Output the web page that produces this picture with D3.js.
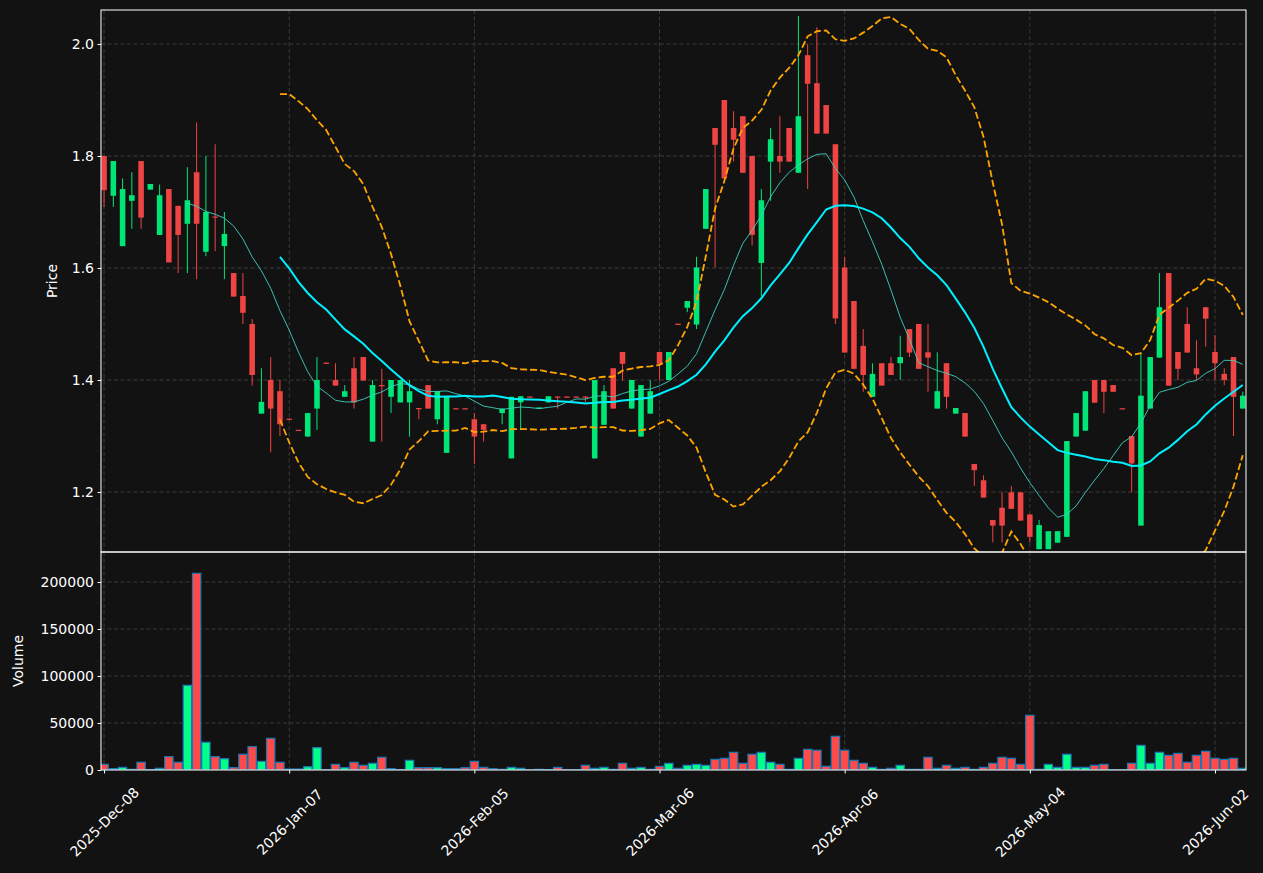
<!DOCTYPE html>
<html><head><meta charset="utf-8">
<script src="https://cdn.jsdelivr.net/npm/d3@7"></script>
<style>
body{margin:0;background:#121212;}
svg{display:block;}
text{font-family:"DejaVu Sans",sans-serif;}
</style>
</head><body>
<svg id="chart" width="1263" height="873"></svg>
<script>
// ---------------- DATA ----------------
const dates = [
"2025-12-08","2025-12-09","2025-12-10","2025-12-11","2025-12-12",
"2025-12-15","2025-12-16","2025-12-17","2025-12-18","2025-12-19",
"2025-12-22","2025-12-23","2025-12-24","2025-12-26",
"2025-12-29","2025-12-30","2025-12-31","2026-01-02","2026-01-05","2026-01-06",
"2026-01-07","2026-01-08","2026-01-09",
"2026-01-12","2026-01-13","2026-01-14","2026-01-15","2026-01-16",
"2026-01-20","2026-01-21","2026-01-22","2026-01-23",
"2026-01-26","2026-01-27","2026-01-28","2026-01-29","2026-01-30",
"2026-02-02","2026-02-03","2026-02-04",
"2026-02-05","2026-02-06",
"2026-02-09","2026-02-10","2026-02-11","2026-02-12","2026-02-13",
"2026-02-17","2026-02-18","2026-02-19","2026-02-20",
"2026-02-23","2026-02-24","2026-02-25","2026-02-26","2026-02-27",
"2026-03-02","2026-03-03","2026-03-04","2026-03-05",
"2026-03-06",
"2026-03-09","2026-03-10","2026-03-11","2026-03-12","2026-03-13",
"2026-03-16","2026-03-17","2026-03-18","2026-03-19","2026-03-20",
"2026-03-23","2026-03-24","2026-03-25","2026-03-26","2026-03-27",
"2026-03-30","2026-03-31","2026-04-01","2026-04-02",
"2026-04-06","2026-04-07","2026-04-08","2026-04-09","2026-04-10",
"2026-04-13","2026-04-14","2026-04-15","2026-04-16","2026-04-17",
"2026-04-20","2026-04-21","2026-04-22","2026-04-23","2026-04-24",
"2026-04-27","2026-04-28","2026-04-29","2026-04-30","2026-05-01",
"2026-05-04","2026-05-05","2026-05-06","2026-05-07","2026-05-08",
"2026-05-11","2026-05-12","2026-05-13","2026-05-14","2026-05-15",
"2026-05-18","2026-05-19","2026-05-20","2026-05-21","2026-05-22",
"2026-05-26","2026-05-27","2026-05-28","2026-05-29",
"2026-06-01","2026-06-02","2026-06-03","2026-06-04","2026-06-05"
];

const openP = [
1.800,1.729,1.639,1.720,1.791,1.740,1.659,1.741,1.711,1.679,
1.771,1.629,1.692,1.639,1.591,1.550,1.500,1.340,1.400,1.380,
1.331,1.311,1.299,1.349,1.431,1.400,1.370,1.421,1.441,1.290,
1.391,1.370,1.360,1.360,1.350,1.391,1.330,1.270,1.3495,1.3495,
1.330,1.321,1.3725,1.341,1.260,1.360,1.3705,1.349,1.360,1.3705,
1.3705,1.3705,1.3705,1.260,1.320,1.421,1.450,1.349,1.299,1.340,
1.450,1.400,1.5005,1.529,1.499,1.670,1.850,1.900,1.850,1.871,
1.800,1.609,1.790,1.800,1.850,1.770,1.980,1.930,1.891,1.821,
1.601,1.541,1.461,1.370,1.430,1.430,1.430,1.491,1.500,1.4495,
1.349,1.430,1.340,1.341,1.250,1.221,1.150,1.172,1.1995,1.1995,
1.160,1.098,1.098,1.1095,1.120,1.299,1.3095,1.400,1.400,1.391,
1.3495,1.300,1.140,1.349,1.440,1.591,1.450,1.500,1.421,1.530,
1.450,1.411,1.441,1.349
];
const highP = [
1.800,1.791,1.760,1.771,1.791,1.750,1.749,1.741,1.711,1.780,
1.860,1.800,1.821,1.700,1.591,1.591,1.509,1.421,1.441,1.400,
1.331,1.311,1.341,1.441,1.431,1.430,1.391,1.441,1.441,1.400,
1.420,1.400,1.400,1.400,1.350,1.391,1.380,1.370,1.3495,1.3495,
1.341,1.321,1.3725,1.349,1.370,1.371,1.3705,1.351,1.371,1.3705,
1.3705,1.3705,1.3705,1.400,1.391,1.421,1.450,1.400,1.391,1.400,
1.450,1.450,1.5005,1.541,1.620,1.741,1.850,1.900,1.880,1.871,
1.800,1.741,1.850,1.871,1.850,2.050,2.000,2.030,1.891,1.821,
1.620,1.541,1.491,1.430,1.430,1.441,1.479,1.491,1.500,1.500,
1.4495,1.430,1.350,1.341,1.250,1.230,1.150,1.1995,1.211,1.1995,
1.160,1.150,1.130,1.130,1.291,1.341,1.380,1.400,1.400,1.391,
1.3495,1.300,1.448,1.441,1.591,1.591,1.450,1.530,1.471,1.530,
1.480,1.421,1.441,1.379
];
const lowP = [
1.709,1.709,1.639,1.670,1.670,1.740,1.659,1.610,1.591,1.591,
1.580,1.621,1.630,1.580,1.549,1.500,1.390,1.340,1.271,1.300,
1.329,1.309,1.299,1.311,1.429,1.390,1.370,1.349,1.399,1.290,
1.290,1.341,1.360,1.299,1.330,1.349,1.321,1.270,1.3485,1.3485,
1.250,1.290,1.3715,1.321,1.260,1.311,1.3695,1.349,1.360,1.349,
1.3695,1.3695,1.361,1.260,1.320,1.349,1.399,1.349,1.299,1.340,
1.399,1.400,1.4995,1.521,1.491,1.670,1.601,1.760,1.790,1.770,
1.640,1.549,1.720,1.770,1.790,1.770,1.741,1.840,1.840,1.500,
1.449,1.420,1.379,1.370,1.390,1.409,1.400,1.441,1.420,1.379,
1.349,1.349,1.340,1.299,1.211,1.190,1.110,1.110,1.170,1.149,
1.110,1.098,1.098,1.1095,1.120,1.299,1.3095,1.3595,1.341,1.379,
1.3485,1.1995,1.140,1.349,1.440,1.390,1.400,1.449,1.400,1.4595,
1.400,1.391,1.300,1.349
];
const closeP = [
1.739,1.791,1.741,1.730,1.690,1.750,1.730,1.610,1.659,1.721,
1.679,1.700,1.690,1.661,1.549,1.520,1.409,1.361,1.349,1.321,
1.329,1.309,1.341,1.400,1.429,1.390,1.380,1.360,1.399,1.391,
1.389,1.400,1.400,1.380,1.348,1.349,1.380,1.370,1.3485,1.3485,
1.299,1.311,1.3715,1.349,1.370,1.371,1.3695,1.351,1.371,1.369,
1.3695,1.3695,1.3695,1.400,1.380,1.349,1.429,1.400,1.391,1.380,
1.429,1.450,1.4995,1.541,1.601,1.741,1.820,1.760,1.829,1.770,
1.659,1.721,1.830,1.790,1.790,1.871,1.929,1.840,1.840,1.510,
1.449,1.420,1.409,1.411,1.390,1.409,1.441,1.449,1.420,1.440,
1.380,1.370,1.350,1.299,1.239,1.190,1.140,1.140,1.170,1.149,
1.120,1.141,1.130,1.130,1.291,1.341,1.380,1.3595,1.379,1.379,
1.3485,1.251,1.372,1.441,1.530,1.390,1.420,1.449,1.410,1.5095,
1.430,1.400,1.370,1.372
];
const volume = [
6000,1400,2800,700,8200,500,1800,14200,8200,90100,
209200,29500,14200,12000,2500,16700,24800,9200,33700,8200,
1000,1000,3500,23800,300,6000,2500,8200,5000,7100,
13500,1400,300,10300,2500,2500,2500,1400,1400,2500,
9200,2800,1400,700,2800,1800,300,700,300,2800,
300,300,5000,1800,2800,700,7100,1800,2800,700,
3900,7100,1800,5000,6000,5000,11300,12400,18800,7100,
16700,18800,8200,6000,700,12400,22000,21000,3900,35800,
21000,10300,7100,2800,700,1800,5000,700,700,13500,
1800,5000,1800,2800,700,2800,7100,13500,12400,6000,
58200,700,6000,2800,16700,2800,2800,5000,6000,300,
300,7100,26200,7100,18800,15600,17700,8200,15600,19900,
12400,11300,12400,1800
];

const priceTicks = [1.2, 1.4, 1.6, 1.8, 2.0];
const volumeTicks = [0, 50000, 100000, 150000, 200000];
const xTickIdx = [0, 20, 40, 60, 80, 100, 120];
const maShort = 10, maLong = 20, bbK = 2;

// ---------------- LAYOUT ----------------
const W = 1263, H = 873;
const L = 101, R = 1246;
const pTop = 10, pBot = 552, vTop = 552, vBot = 770;
const BG = "#121212";
const upC = "#00e676", dnC = "#ef4444";
const upV = "#00ff88", dnV = "#ff4a4a";
const gridC = "#3a3a3a";

const svg = d3.select("#chart");
svg.append("rect").attr("width", W).attr("height", H).attr("fill", BG);

const N = dates.length;
const x = d3.scaleLinear().domain([-0.33, N - 1 + 0.35]).range([L, R]);
const yP = d3.scaleLinear().domain([1.0929, 2.0607]).range([pBot, pTop]);
const yV = d3.scaleLinear().domain([0, 231900]).range([vBot, vTop]);
const step = x(1) - x(0);

const defs = svg.append("defs");
defs.append("clipPath").attr("id", "clipP").append("rect")
  .attr("x", L).attr("y", pTop).attr("width", R - L).attr("height", pBot - pTop);
defs.append("clipPath").attr("id", "clipV").append("rect")
  .attr("x", L).attr("y", vTop).attr("width", R - L).attr("height", vBot - vTop);

// grids
const gGrid = svg.append("g").attr("stroke", gridC).attr("stroke-width", 1).attr("stroke-dasharray", "4,2.5");
priceTicks.forEach(t => gGrid.append("line").attr("x1", L).attr("x2", R).attr("y1", yP(t)).attr("y2", yP(t)));
volumeTicks.filter(t => t > 0).forEach(t => gGrid.append("line").attr("x1", L).attr("x2", R).attr("y1", yV(t)).attr("y2", yV(t)));
xTickIdx.forEach(i => {
  gGrid.append("line").attr("x1", x(i)).attr("x2", x(i)).attr("y1", pTop).attr("y2", pBot);
  gGrid.append("line").attr("x1", x(i)).attr("x2", x(i)).attr("y1", vTop).attr("y2", vBot);
});

// indicators (derived from closes)
function rollMean(arr, n) {
  return arr.map((_, i) => i < n - 1 ? null : d3.mean(arr.slice(i - n + 1, i + 1)));
}
function rollStd(arr, n) {
  return arr.map((_, i) => {
    if (i < n - 1) return null;
    const s = arr.slice(i - n + 1, i + 1), m = d3.mean(s);
    return Math.sqrt(d3.mean(s.map(v => (v - m) * (v - m))));
  });
}
const ma10 = rollMean(closeP, maShort);
const ma20 = rollMean(closeP, maLong);
const sd20 = rollStd(closeP, maLong);
const bbUp = ma20.map((m, i) => m == null ? null : m + bbK * sd20[i]);
const bbLo = ma20.map((m, i) => m == null ? null : m - bbK * sd20[i]);

const gP = svg.append("g").attr("clip-path", "url(#clipP)");

// candles
const bodyW = step * 0.6;
const candles = gP.append("g");
d3.range(N).forEach(i => {
  const up = closeP[i] >= openP[i];
  const c = up ? upC : dnC;
  candles.append("line")
    .attr("x1", x(i)).attr("x2", x(i))
    .attr("y1", yP(highP[i])).attr("y2", yP(lowP[i]))
    .attr("stroke", c).attr("stroke-width", 1);
  const y0 = yP(Math.max(openP[i], closeP[i])), y1 = yP(Math.min(openP[i], closeP[i]));
  candles.append("rect")
    .attr("x", x(i) - bodyW / 2).attr("width", bodyW)
    .attr("y", y0).attr("height", Math.max(1.2, y1 - y0))
    .attr("fill", c);
});

// lines
const line = d3.line().defined(d => d[1] != null).x(d => x(d[0])).y(d => yP(d[1]));
const toPts = arr => arr.map((v, i) => [i, v]);
gP.append("path").attr("d", line(toPts(ma10))).attr("fill", "none")
  .attr("stroke", "#3fd0c0").attr("stroke-width", 1).attr("opacity", 0.9);
gP.append("path").attr("d", line(toPts(ma20))).attr("fill", "none")
  .attr("stroke", "#00f0ff").attr("stroke-width", 2);
[bbUp, bbLo].forEach(arr => {
  gP.append("path").attr("d", line(toPts(arr))).attr("fill", "none")
    .attr("stroke", "#ffa500").attr("stroke-width", 1.8).attr("stroke-dasharray", "7,3");
});

// volume
const gV = svg.append("g").attr("clip-path", "url(#clipV)");
const volW = step * 0.9;
d3.range(N).forEach(i => {
  const up = closeP[i] >= openP[i];
  gV.append("rect")
    .attr("x", x(i) - volW / 2).attr("width", volW)
    .attr("y", yV(volume[i])).attr("height", yV(0) - yV(volume[i]))
    .attr("fill", up ? upV : dnV)
    .attr("stroke", "#1f77b4").attr("stroke-width", 1.2);
});

// axes
const tickStyle = g => {
  g.select(".domain").remove();
  g.selectAll(".tick line").attr("stroke", "#ffffff");
  g.selectAll(".tick text").attr("fill", "#ffffff").attr("font-size", 14).attr("font-family", "DejaVu Sans");
};
svg.append("g").attr("transform", `translate(${L},0)`)
  .call(d3.axisLeft(yP).tickValues(priceTicks).tickFormat(d3.format(".1f")).tickSize(3.5).tickPadding(3.5))
  .call(tickStyle);
svg.append("g").attr("transform", `translate(${L},0)`)
  .call(d3.axisLeft(yV).tickValues(volumeTicks).tickFormat(d3.format("d")).tickSize(3.5).tickPadding(3.5))
  .call(tickStyle);

const fmt = d3.timeFormat("%Y-%b-%d");
const parse = d3.timeParse("%Y-%m-%d");
const gx = svg.append("g").attr("transform", `translate(0,${vBot})`)
  .call(d3.axisBottom(x).tickValues(xTickIdx).tickFormat(i => fmt(parse(dates[i]))).tickSize(3.5))
  .call(tickStyle);
// rotated 45 degrees, centred horizontally on the tick (as matplotlib's default ha='center')
gx.selectAll(".tick text")
  .attr("text-anchor", "middle")
  .attr("x", 0).attr("y", 0).attr("dy", "0.35em")
  .attr("transform", "translate(0,52) rotate(-45)");

// spines
svg.append("rect").attr("x", L).attr("y", pTop).attr("width", R - L).attr("height", pBot - pTop)
  .attr("fill", "none").attr("stroke", "#ffffff").attr("stroke-width", 1);
svg.append("rect").attr("x", L).attr("y", vTop).attr("width", R - L).attr("height", vBot - vTop)
  .attr("fill", "none").attr("stroke", "#ffffff").attr("stroke-width", 1);

// axis labels
svg.append("text").attr("transform", `translate(57,${(pTop + pBot) / 2}) rotate(-90)`)
  .attr("text-anchor", "middle").attr("fill", "#fff").attr("font-size", 14).text("Price");
svg.append("text").attr("transform", `translate(23,${(vTop + vBot) / 2}) rotate(-90)`)
  .attr("text-anchor", "middle").attr("fill", "#fff").attr("font-size", 14).text("Volume");
</script>
</body></html>
